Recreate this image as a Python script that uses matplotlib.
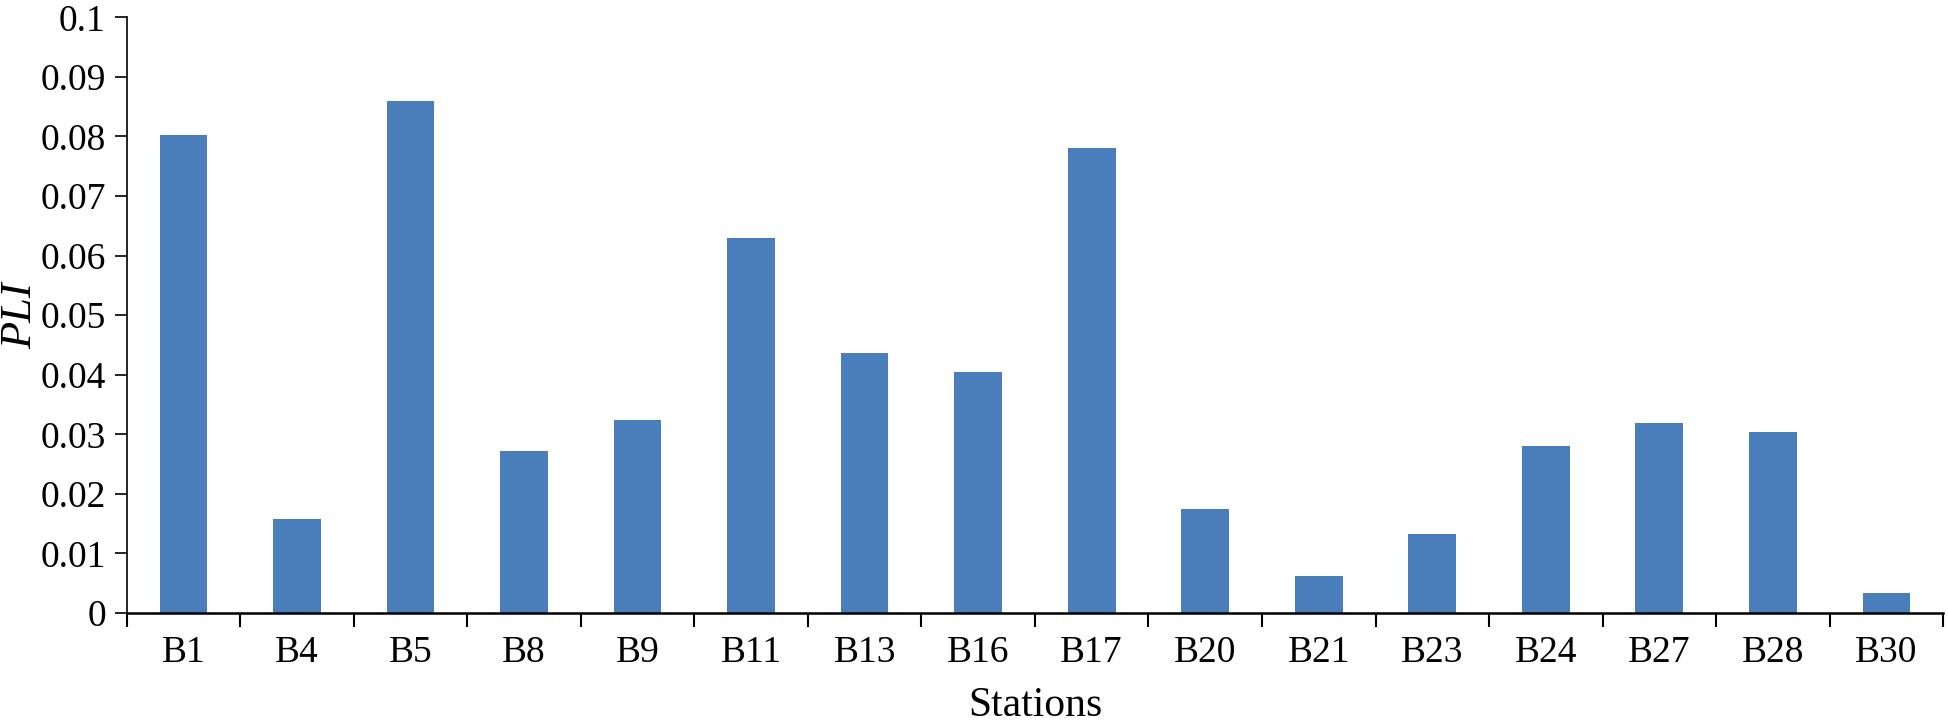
import numpy as np
import matplotlib
matplotlib.use("Agg")
import matplotlib.pyplot as plt

stations = ["B1", "B4", "B5", "B8", "B9", "B11", "B13", "B16", "B17", "B20",
            "B21", "B23", "B24", "B27", "B28", "B30"]
pli = [0.0802, 0.0157, 0.0859, 0.0272, 0.0324, 0.0630, 0.0437, 0.0405, 0.0780,
       0.0175, 0.0062, 0.0133, 0.0280, 0.0319, 0.0303, 0.0033]
yticks = [0, 0.01, 0.02, 0.03, 0.04, 0.05, 0.06, 0.07, 0.08, 0.09, 0.1]
ytick_labels = ["0", "0.01", "0.02", "0.03", "0.04", "0.05", "0.06", "0.07", "0.08", "0.09", "0.1"]

plt.rcParams['font.family'] = ['Liberation Serif', 'DejaVu Serif']

fig = plt.figure(figsize=(19.49, 7.22), dpi=100)
ax = fig.add_axes([0.065, 0.151, 0.932, 0.825])

x = np.arange(len(stations))
ax.bar(x, pli, width=0.42, color='#4a7ebb', zorder=2)

ax.set_xlim(-0.5, len(stations) - 0.5)
ax.set_ylim(0, 0.1)
ax.set_yticks(yticks)
ax.set_yticklabels(ytick_labels, fontsize=27)

ax.set_xticks(np.arange(len(stations) + 1) - 0.5)
ax.set_xticklabels([])
ax.set_xticks(x, minor=True)
ax.set_xticklabels(stations, minor=True, fontsize=27)
ax.tick_params(axis='x', which='major', direction='out', length=10, width=1.5, color='black')
ax.tick_params(axis='x', which='minor', length=0, pad=16)
ax.tick_params(axis='y', which='major', direction='out', length=9, width=1.2, pad=6)

for s in ['top', 'right']:
    ax.spines[s].set_visible(False)
ax.spines['left'].set_linewidth(1.2)
ax.spines['bottom'].set_linewidth(1.8)

ax.set_xlabel("Stations", fontsize=30)
ax.xaxis.set_label_coords(0.5, -0.124)
ax.set_ylabel("PLI", fontsize=32, style='italic', labelpad=0)

fig.savefig("out.png", dpi=100)
